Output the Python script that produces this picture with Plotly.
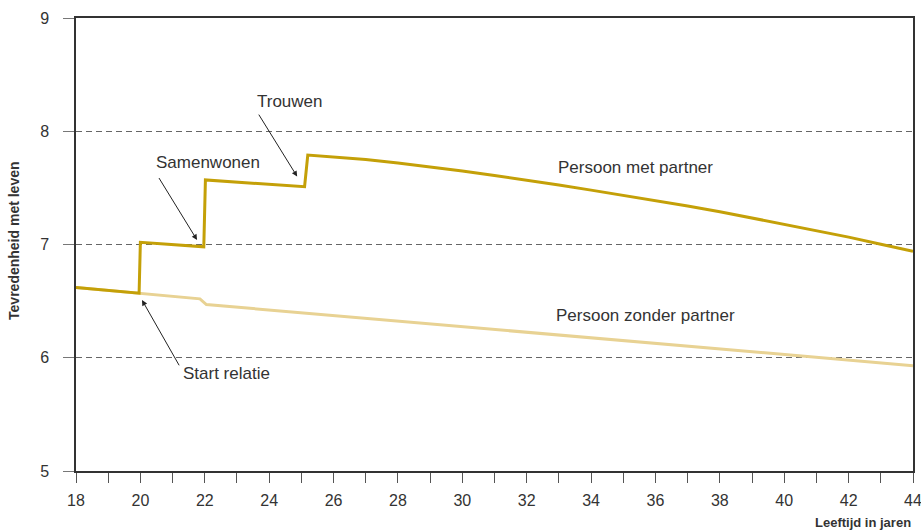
import plotly.graph_objects as go

# Persoon met partner
met_x = [18, 19.96, 20.0, 21.97, 22.02, 25.1, 25.2, 26, 27, 28, 29, 30, 31, 32, 33, 34, 35,
         36, 37, 38, 39, 40, 41, 42, 43, 44]
met_y = [6.62, 6.57, 7.02, 6.98, 7.57, 7.51, 7.79, 7.775, 7.75, 7.72, 7.687, 7.65, 7.61, 7.57,
         7.525, 7.48, 7.435, 7.39, 7.34, 7.29, 7.235, 7.18, 7.123, 7.065, 7.003, 6.94]

# Persoon zonder partner
zon_x = [18, 20, 21.85, 22.05, 44]
zon_y = [6.62, 6.57, 6.52, 6.47, 5.93]

x_ticks = list(range(18, 45, 2))
y_ticks = [5, 6, 7, 8, 9]

col_met = "#c4a008"
col_zon = "#e8d293"
txt = "#333333"
font_family = "Liberation Sans, Arial, sans-serif"
tick_family = "Liberation Sans Narrow, Liberation Sans, Arial, sans-serif"

fig = go.Figure()
fig.add_trace(go.Scatter(x=zon_x, y=zon_y, mode="lines",
                         line=dict(color=col_zon, width=3), hoverinfo="skip"))
fig.add_trace(go.Scatter(x=met_x, y=met_y, mode="lines",
                         line=dict(color=col_met, width=3), hoverinfo="skip"))

ann = []
def label(x, y, t):
    ann.append(dict(x=x, y=y, xref="x", yref="y", text=t, showarrow=False,
                    font=dict(size=17, color=txt, family=font_family)))
def arrow(x, y, ax, ay):
    ann.append(dict(x=x, y=y, ax=ax, ay=ay, xref="x", yref="y", axref="x", ayref="y",
                    text="", showarrow=True, arrowhead=2, arrowsize=1.1,
                    arrowwidth=1, arrowcolor="#222222"))

label(24.65, 8.26, "Trouwen")
arrow(24.87, 7.60, 23.65, 8.16)
label(22.10, 7.72, "Samenwonen")
arrow(21.76, 7.04, 20.55, 7.60)
label(22.66, 5.86, "Start relatie")
arrow(20.05, 6.51, 21.23, 5.92)
label(35.38, 7.68, "Persoon met partner")
label(35.68, 6.37, "Persoon zonder partner")

ann.append(dict(x=1, y=-0.114, xref="paper", yref="paper", xanchor="right", yanchor="middle",
                text="<b>Leeftijd in jaren</b>", showarrow=False,
                font=dict(size=13, color=txt, family=font_family)))
ann.append(dict(x=-0.074, y=0.508, xref="paper", yref="paper", xanchor="center", yanchor="middle",
                text="<b>Tevredenheid met leven</b>", showarrow=False, textangle=-90,
                font=dict(size=14, color=txt, family=font_family)))

fig.update_layout(
    width=921, height=531,
    margin=dict(l=76, r=8, t=18, b=60, autoexpand=False),
    paper_bgcolor="white", plot_bgcolor="white",
    showlegend=False,
    font=dict(family=font_family, size=14, color=txt),
    annotations=ann,
    xaxis=dict(range=[18, 44], tickvals=x_ticks, ticks="outside", ticklen=10,
               tickcolor="#555555", tickwidth=1, automargin=False, ticklabeloverflow="allow",
               minor=dict(dtick=1, ticks="outside", ticklen=10, tickcolor="#555555", tickwidth=1, showgrid=False),
               showline=True, linecolor="#333333", linewidth=1.5, mirror=True,
               showgrid=False, zeroline=False, ticklabelstandoff=4,
               tickfont=dict(size=16, color=txt, family=tick_family)),
    yaxis=dict(range=[5, 9], tickvals=y_ticks, ticks="outside", ticklen=11,
               tickcolor="#777777", tickwidth=1, automargin=False, ticklabeloverflow="allow",
               showline=True, linecolor="#333333", linewidth=1.5, mirror=True,
               showgrid=True, gridcolor="#666666", griddash="6px,4px", gridwidth=1,
               zeroline=False, ticklabelstandoff=11,
               tickfont=dict(size=16, color=txt, family=tick_family)),
)

fig.write_html("out.html", config={"displayModeBar": False},
               post_script="document.body.style.margin='0';document.body.style.overflow='hidden';")
